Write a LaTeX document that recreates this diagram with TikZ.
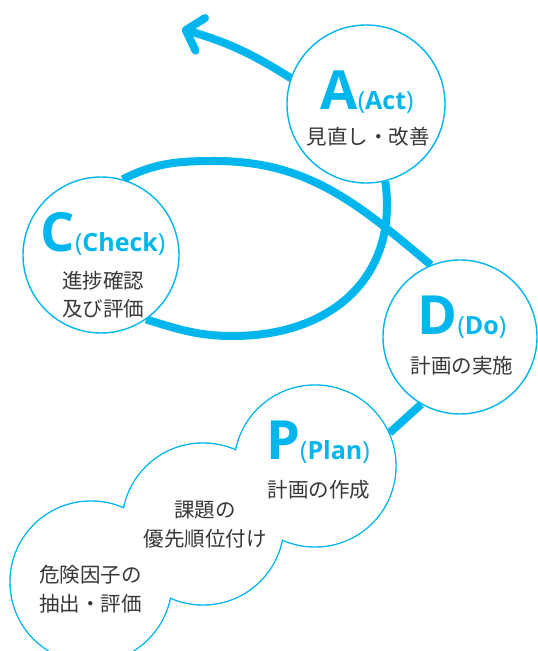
\documentclass[tikz,border=0pt]{standalone}
\usepackage{fontspec}
\setmainfont{Open Sans}
\newfontfamily\jpfont{Noto Sans CJK JP}
\usetikzlibrary{arrows.meta,backgrounds}

\definecolor{pdcablue}{RGB}{0,182,237}
\definecolor{jpgray}{RGB}{55,55,55}

\newcommand{\stage}[2]{{\fontsize{54}{54}\selectfont\bfseries #1}{\fontsize{25}{25}\selectfont(\textbf{#2})}}

\tikzset{
    ring/.style={circle, draw=pdcablue, line width=1.4pt, fill=white, minimum size=#1, inner sep=0pt},
    flow/.style={draw=pdcablue, line width=8pt},
    jp/.style={font=\jpfont\fontsize{20.5}{24}\selectfont, text=jpgray, inner sep=0pt, anchor=base},
    head/.style={text=pdcablue, inner sep=0pt, anchor=base}
}

\begin{document}
\begin{tikzpicture}[x=1pt, y=1pt]

    \useasboundingbox (0, 0) rectangle (538, 651);

    \node[ring=158pt] (A) at (366, 547) {};
    \node[ring=156pt] (C) at (101, 396) {};
    \node[ring=154pt] (D) at (460, 314) {};
    \node[ring=162pt] (P) at (315, 185) {};
    \node[ring=162pt] (mid) at (203, 127) {};
    \node[ring=162pt] (low) at (91, 69) {};
    \fill[white] (P.center) circle (80.2) (mid.center) circle (80.2) (low.center) circle (80.2);

    \coordinate (tip) at (182, 622);
    \coordinate (lowpt) at (233, 315);
    \coordinate (highpt) at (215, 490);

    \begin{pgfonlayer}{background}
    \draw [flow, line cap=round, -{Straight Barb[length=15pt, width=34pt, round]}] (A.161) to [bend right=8] (tip);
    \draw [flow] (A.-76) to [out=-82, in=0, looseness=1.15] (lowpt) to [out=180, in=-17] (C.-55);
    \draw [flow] (C.74) to [out=27, in=180] (highpt) to [out=0, in=140] (D.112);
    \draw [flow] (D.-120) -- (P.24);
    \end{pgfonlayer}

    \node[head] (at) at (367, 541) {\stage{A}{Act}};
    \node[jp] (aj) at (368, 506) {見直し・改善};

    \node[head] (ct) at (103, 399) {\stage{C}{Check}};
    \node[jp] (cj1) at (103, 362) {進捗確認};
    \node[jp] (cj2) at (103, 334) {及び評価};

    \node[head] (dt) at (462, 316) {\stage{D}{Do}};
    \node[jp] (dj) at (462, 277) {計画の実施};

    \node[head] (pt) at (318, 191) {\stage{P}{Plan}};
    \node[jp] (pj) at (319, 153) {計画の作成};

    \node[jp] (mj1) at (205, 133) {課題の};
    \node[jp] (mj2) at (205, 104) {優先順位付け};

    \node[jp, anchor=base west] (lj1) at (39, 68) {危険因子の};
    \node[jp, anchor=base west] (lj2) at (39, 39) {抽出・評価};

\end{tikzpicture}
\end{document}
